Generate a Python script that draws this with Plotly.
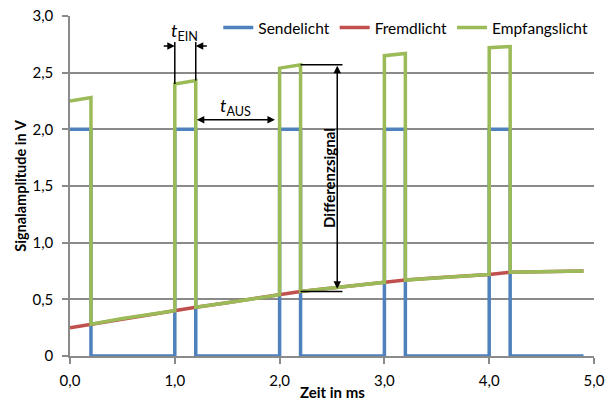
import plotly.graph_objects as go

# ---- data ----
zeit = [0.0, 0.2, 0.2, 1.0, 1.0, 1.2, 1.2, 2.0, 2.0, 2.2, 2.2, 3.0, 3.0, 3.2, 3.2, 4.0, 4.0, 4.2, 4.2, 4.9]
sendelicht = [2.0, 2.0, 0.0, 0.0, 2.0, 2.0, 0.0, 0.0, 2.0, 2.0, 0.0, 0.0, 2.0, 2.0, 0.0, 0.0, 2.0, 2.0, 0.0, 0.0]

zeit_fremd = [0.0, 0.2, 0.5, 1.0, 1.2, 1.5, 2.0, 2.2, 2.5, 3.0, 3.2, 3.5, 4.0, 4.2, 4.5, 4.9]
fremdlicht = [0.25, 0.28, 0.33, 0.40, 0.43, 0.47, 0.54, 0.57, 0.60, 0.65, 0.67, 0.69, 0.72, 0.74, 0.745, 0.75]

zeit_empf = [0.0, 0.2, 0.2, 0.5, 1.0, 1.0, 1.2, 1.2, 1.5, 2.0, 2.0, 2.2, 2.2, 2.5, 3.0, 3.0, 3.2, 3.2, 3.5, 4.0, 4.0, 4.2, 4.2, 4.5, 4.9]
empfangslicht = [2.25, 2.28, 0.28, 0.33, 0.40, 2.40, 2.43, 0.43, 0.47, 0.54, 2.54, 2.57, 0.57, 0.60, 0.65, 2.65, 2.67, 0.67, 0.69, 0.72, 2.72, 2.73, 0.74, 0.745, 0.75]

x_ticks = [0, 1, 2, 3, 4, 5]
x_ticklabels = ["0,0", "1,0", "2,0", "3,0", "4,0", "5,0"]
y_ticks = [0, 0.5, 1.0, 1.5, 2.0, 2.5, 3.0]
y_ticklabels = ["0", "0,5", "1,0", "1,5", "2,0", "2,5", "3,0"]

FONT = "Lato"
GRID = "#8a8a8a"

fig = go.Figure()
fig.add_trace(go.Scatter(x=zeit, y=sendelicht, mode="lines", name="Sendelicht",
                         line=dict(color="#4F81BD", width=3.5)))
fig.add_trace(go.Scatter(x=zeit_fremd, y=fremdlicht, mode="lines", name="Fremdlicht",
                         line=dict(color="#C0504D", width=3.5)))
fig.add_trace(go.Scatter(x=zeit_empf, y=empfangslicht, mode="lines", name="Empfangslicht",
                         line=dict(color="#9BBB59", width=3.5)))

shapes = []
annotations = []
blk = "black"

# t_EIN markers
t_on, t_off = 1.0, 1.2
top_y = 2.77
shapes.append(dict(type="line", x0=t_on, x1=t_on, y0=empfangslicht[5], y1=top_y, line=dict(color=blk, width=1.5)))
shapes.append(dict(type="line", x0=t_off, x1=t_off, y0=empfangslicht[6], y1=top_y, line=dict(color=blk, width=1.5)))
annotations.append(dict(x=t_on, y=2.735, ax=0.88, ay=2.735, xref="x", yref="y", axref="x", ayref="y",
                        showarrow=True, arrowhead=2, arrowsize=1, arrowwidth=1.5, arrowcolor=blk, text=""))
annotations.append(dict(x=t_off, y=2.735, ax=1.32, ay=2.735, xref="x", yref="y", axref="x", ayref="y",
                        showarrow=True, arrowhead=2, arrowsize=1, arrowwidth=1.5, arrowcolor=blk, text=""))
annotations.append(dict(x=1.09, y=2.86, xref="x", yref="y", showarrow=False,
                        text="<i>t</i><sub>EIN</sub>", font=dict(family=FONT, size=18, color=blk)))

# t_AUS arrow
annotations.append(dict(x=1.21, y=2.085, ax=1.97, ay=2.085, xref="x", yref="y", axref="x", ayref="y",
                        showarrow=True, arrowhead=2, arrowside="end+start", arrowsize=1, arrowwidth=1.5,
                        arrowcolor=blk, text=""))
annotations.append(dict(x=1.58, y=2.2, xref="x", yref="y", showarrow=False,
                        text="<i>t</i><sub>AUS</sub>", font=dict(family=FONT, size=18, color=blk)))

# Differenzsignal
shapes.append(dict(type="line", x0=2.2, x1=2.6, y0=2.57, y1=2.57, line=dict(color=blk, width=1.5)))
shapes.append(dict(type="line", x0=2.2, x1=2.6, y0=0.57, y1=0.57, line=dict(color=blk, width=1.5)))
annotations.append(dict(x=2.55, y=2.56, ax=2.55, ay=0.58, xref="x", yref="y", axref="x", ayref="y",
                        showarrow=True, arrowhead=2, arrowside="end+start", arrowsize=1, arrowwidth=1.5,
                        arrowcolor=blk, text=""))
annotations.append(dict(x=2.47, y=1.57, xref="x", yref="y", showarrow=False, textangle=-90,
                        text="<b>Differenzsignal</b>", font=dict(family=FONT, size=15, color=blk)))

# x axis title
annotations.append(dict(x=0.5, y=-0.106, xref="paper", yref="paper", showarrow=False,
                        xanchor="center", yanchor="middle",
                        text="<b>Zeit in ms</b>", font=dict(family=FONT, size=15, color=blk)))

fig.update_layout(
    width=610, height=401,
    margin=dict(l=70, r=16, t=15, b=45),
    paper_bgcolor="white", plot_bgcolor="white",
    font=dict(family=FONT, size=15, color="black"),
    showlegend=True,
    legend=dict(orientation="h", x=0.283, y=0.962, xanchor="left", yanchor="middle",
                bgcolor="rgba(255,255,255,0)", font=dict(family=FONT, size=15.5),
                itemwidth=30, tracegroupgap=0),
    shapes=shapes, annotations=annotations,
    hovermode=False,
)
fig.update_xaxes(range=[0, 5], tickvals=x_ticks, ticktext=x_ticklabels, showgrid=False,
                 showline=True, linecolor=GRID, linewidth=1.5, ticks="outside", ticklen=6,
                 tickcolor=GRID, tickwidth=1.5, zeroline=False, automargin=False,
                 ticklabelstandoff=4)
fig.update_yaxes(range=[0, 3], tickvals=y_ticks, ticktext=y_ticklabels, showgrid=True,
                 gridcolor=GRID, gridwidth=1.5, showline=True, linecolor=GRID, linewidth=1.5,
                 ticks="outside", ticklen=6, tickcolor=GRID, tickwidth=1.5, zeroline=False,
                 automargin=False, ticklabelstandoff=6,
                 title=dict(text="<b>Signalamplitude in V</b>", font=dict(family=FONT, size=14.5), standoff=2))

fig.write_html("out.html", config={"displayModeBar": False},
               post_script="document.body.style.margin='0';")
